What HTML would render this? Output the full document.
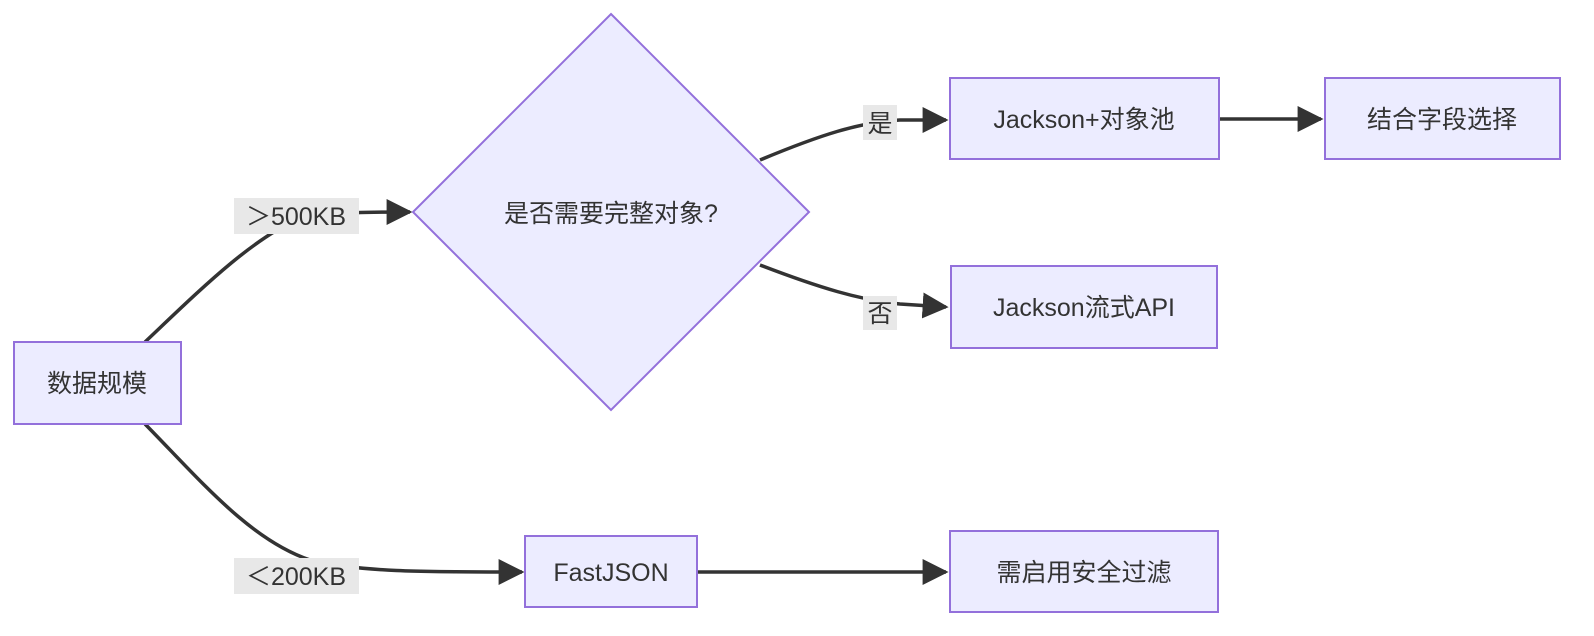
<!DOCTYPE html>
<html><head><meta charset="utf-8"><style>
body{margin:0;background:#fff;}
svg{display:block;}
text{font-family:"Liberation Sans","Noto Sans CJK SC",sans-serif;font-size:25px;fill:#333;}
</style></head><body>
<svg width="1594" height="636" viewBox="0 0 1594 636" xmlns="http://www.w3.org/2000/svg">
<defs><marker id="a" viewBox="0 0 10 10" refX="9" refY="5" markerWidth="8" markerHeight="8" markerUnits="userSpaceOnUse" orient="auto"><path d="M0,0L10,5L0,10z" fill="#333"/></marker>
<marker id="b" viewBox="0 0 10 10" refX="9" refY="5" markerWidth="26" markerHeight="26" markerUnits="userSpaceOnUse" orient="auto"><path d="M0,0L10,5L0,10z" fill="#333"/></marker></defs>
<g fill="none" stroke="#333" stroke-width="3.5">
<path d="M145,342 C200,290 250,240 300,218 C340,212 370,212 410,212" marker-end="url(#b)"/>
<path d="M145,424 C200,480 250,540 310,560 C360,572 420,572 522,572" marker-end="url(#b)"/>
<path d="M760,160 C820,135 860,122 900,120 L946,120" marker-end="url(#b)"/>
<path d="M760,265 C820,288 860,300 900,304 L946,307" marker-end="url(#b)"/>
<path d="M1219,119 L1321,119" marker-end="url(#b)"/>
<path d="M697,572 L946,572" marker-end="url(#b)"/>
</g>
<g fill="#ECECFF" stroke="#9370DB" stroke-width="2">
<rect x="14" y="342" width="167" height="82"/>
<polygon points="611,14 809,212 611,410 413,212"/>
<rect x="950" y="78" width="269" height="81"/>
<rect x="1325" y="78" width="235" height="81"/>
<rect x="951" y="266" width="266" height="82"/>
<rect x="525" y="536" width="172" height="71"/>
<rect x="950" y="531" width="268" height="81"/>
</g>
<g fill="#e8e8e8">
<rect x="234" y="198" width="125" height="36"/>
<rect x="234" y="558" width="125" height="36"/>
<rect x="863" y="105" width="34" height="35"/>
<rect x="863" y="296" width="34" height="34"/>
</g>
<g text-anchor="middle">
<text x="97" y="392">数据规模</text>
<text x="611" y="222">是否需要完整对象?</text>
<text x="1084" y="128">Jackson+对象池</text>
<text x="1442" y="128">结合字段选择</text>
<text x="1084" y="316">Jackson流式API</text>
<text x="611" y="581">FastJSON</text>
<text x="1084" y="581">需启用安全过滤</text>
<text x="296" y="225">＞500KB</text>
<text x="296" y="585">＜200KB</text>
<text x="880" y="132">是</text>
<text x="880" y="322">否</text>
</g>
</svg>
</body></html>
